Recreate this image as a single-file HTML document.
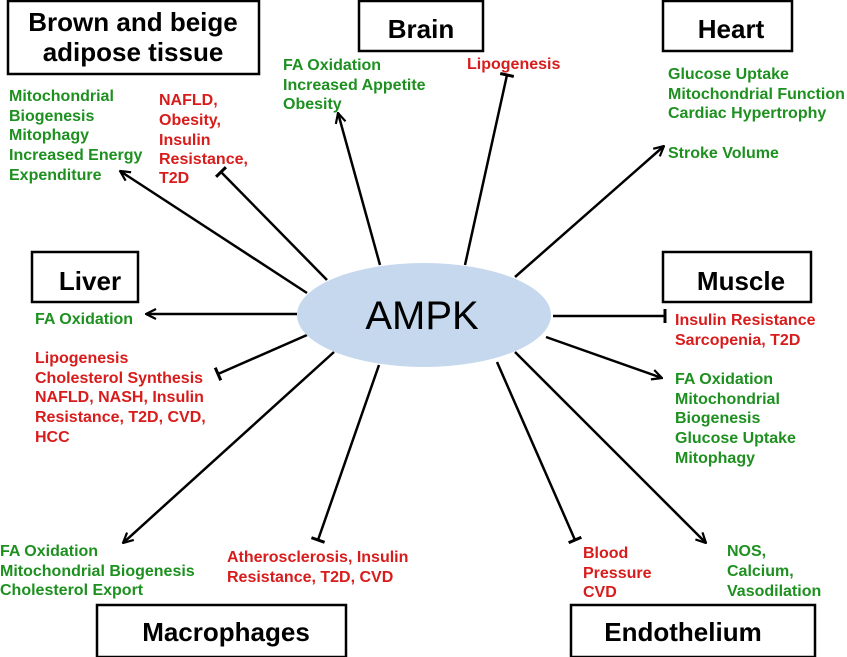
<!DOCTYPE html>
<html><head><meta charset="utf-8"><style>
html,body{margin:0;padding:0;background:#fff;}
svg{display:block;}
.g{fill:#1e9020;font:bold 16px "Liberation Sans",sans-serif;}
.r{fill:#d81c1c;font:bold 16px "Liberation Sans",sans-serif;}
.b{fill:#000;font:bold 26px "Liberation Sans",sans-serif;}
</style></head><body>
<svg width="847" height="657" viewBox="0 0 847 657" xmlns="http://www.w3.org/2000/svg">
<defs>
<marker id="a" viewBox="0 0 12 12" refX="11" refY="6" markerWidth="12" markerHeight="12" markerUnits="userSpaceOnUse" orient="auto">
<path d="M1,1 L11,6 L1,11" fill="none" stroke="#000" stroke-width="2.2"/>
</marker>
<marker id="t" viewBox="0 0 4 14" refX="2" refY="7" markerWidth="4" markerHeight="14" markerUnits="userSpaceOnUse" orient="auto">
<rect x="0.5" y="0" width="3" height="14" fill="#000"/>
</marker>
</defs>
<g fill="none" stroke="#000" stroke-width="2.5">
<rect x="8" y="1" width="251" height="73"/>
<rect x="359" y="1" width="124" height="50"/>
<rect x="663" y="1" width="129" height="50"/>
<rect x="32" y="252" width="106" height="50"/>
<rect x="663" y="252" width="148" height="50"/>
<rect x="97" y="605" width="249" height="52"/>
<rect x="571" y="605" width="244" height="52"/>
</g>
<g stroke="#000" stroke-width="2.5" fill="none">
<line x1="307" y1="293" x2="120" y2="171" marker-end="url(#a)"/>
<line x1="327" y1="280" x2="221" y2="172" marker-end="url(#t)"/>
<line x1="380" y1="265" x2="338" y2="113" marker-end="url(#a)"/>
<line x1="465" y1="265" x2="507" y2="75" marker-end="url(#t)"/>
<line x1="515" y1="277" x2="664" y2="146" marker-end="url(#a)"/>
<line x1="297" y1="314" x2="146" y2="314" marker-end="url(#a)"/>
<line x1="307" y1="335" x2="218" y2="374" marker-end="url(#t)"/>
<line x1="334" y1="352" x2="123" y2="543" marker-end="url(#a)"/>
<line x1="379" y1="365" x2="318" y2="540" marker-end="url(#t)"/>
<line x1="553" y1="316" x2="665" y2="316" marker-end="url(#t)"/>
<line x1="546" y1="337" x2="662" y2="378" marker-end="url(#a)"/>
<line x1="515" y1="352" x2="706" y2="543" marker-end="url(#a)"/>
<line x1="497" y1="362" x2="575" y2="540" marker-end="url(#t)"/>
</g>
<ellipse cx="424" cy="315" rx="127" ry="52" fill="#c5d8ee"/>
<text x="422" y="329" text-anchor="middle" font-family="Liberation Sans, sans-serif" font-size="40" fill="#000">AMPK</text>
<text class="b" x="133" y="31" text-anchor="middle">Brown and beige</text>
<text class="b" x="133" y="61" text-anchor="middle">adipose tissue</text>
<text class="b" x="421" y="38" text-anchor="middle">Brain</text>
<text class="b" x="731" y="38" text-anchor="middle">Heart</text>
<text class="b" x="90" y="290" text-anchor="middle">Liver</text>
<text class="b" x="741" y="290" text-anchor="middle">Muscle</text>
<text class="b" x="226" y="641" text-anchor="middle">Macrophages</text>
<text class="b" x="683" y="641" text-anchor="middle">Endothelium</text>
<g class="g">
<text x="9" y="101">Mitochondrial</text><text x="9" y="121">Biogenesis</text><text x="9" y="140">Mitophagy</text><text x="9" y="160">Increased Energy</text><text x="9" y="180">Expenditure</text>
<text x="283" y="70">FA Oxidation</text><text x="283" y="90">Increased Appetite</text><text x="283" y="109">Obesity</text>
<text x="668" y="79">Glucose Uptake</text><text x="668" y="99">Mitochondrial Function</text><text x="668" y="118">Cardiac Hypertrophy</text><text x="668" y="158">Stroke Volume</text>
<text x="35" y="324">FA Oxidation</text>
<text x="675" y="384">FA Oxidation</text><text x="675" y="404">Mitochondrial</text><text x="675" y="423">Biogenesis</text><text x="675" y="443">Glucose Uptake</text><text x="675" y="463">Mitophagy</text>
<text x="0" y="556">FA Oxidation</text><text x="0" y="576">Mitochondrial Biogenesis</text><text x="0" y="595">Cholesterol Export</text>
<text x="727" y="556">NOS,</text><text x="727" y="576">Calcium,</text><text x="727" y="596">Vasodilation</text>
</g>
<g class="r">
<text x="159" y="105">NAFLD,</text><text x="159" y="125">Obesity,</text><text x="159" y="145">Insulin</text><text x="159" y="164">Resistance,</text><text x="159" y="183">T2D</text>
<text x="467" y="69">Lipogenesis</text>
<text x="35" y="363">Lipogenesis</text><text x="35" y="383">Cholesterol Synthesis</text><text x="35" y="402">NAFLD, NASH, Insulin</text><text x="35" y="422">Resistance, T2D, CVD,</text><text x="35" y="442">HCC</text>
<text x="675" y="325">Insulin Resistance</text><text x="675" y="345">Sarcopenia, T2D</text>
<text x="227" y="562">Atherosclerosis, Insulin</text><text x="227" y="582">Resistance, T2D, CVD</text>
<text x="583" y="558">Blood</text><text x="583" y="578">Pressure</text><text x="583" y="597">CVD</text>
</g>
</svg>
</body></html>
